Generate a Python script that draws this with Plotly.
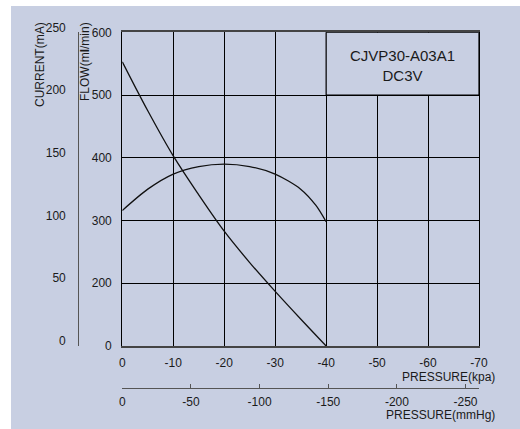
import plotly.graph_objects as go

# ---------------- data ----------------
pressure_kpa = [0, -5, -10, -15, -20, -25, -30, -35, -40]
flow_ml_min = [553, 475, 403, 341, 283, 233, 187, 143, 100]

pressure_kpa_cur = [0, -5, -10, -15, -20, -25, -30, -35, -38, -40]
current_ma = [108, 125, 137, 143, 145, 143, 137, 125, 112, 99]

kpa_tickvals = [0, -10, -20, -30, -40, -50, -60, -70]
kpa_ticktext = ["0", "-10", "-20", "-30", "-40", "-50", "-60", "-70"]

mmhg_tickvals = [0, -50, -100, -150, -200, -250]
mmhg_ticktext = ["0", "-50", "-100", "-150", "-200", "-250"]

flow_tickvals = [100, 200, 300, 400, 500, 600]
flow_ticktext = ["0", "200", "300", "400", "500", "600"]

current_tickvals = [0, 50, 100, 150, 200, 250]

model_text = "CJVP30-A03A1<br>DC3V"

# ---------------- layout helpers ----------------
W, H = 520, 429
BG = "#C8CFE2"
FONT = "Liberation Sans, Arial, sans-serif"
TXT = "#1a1a1a"


def px(xp):
    return xp / W


def py(yp):
    return (H - yp) / H


PL, PR, PT, PB = 122.3, 479, 32.3, 346

fig = go.Figure()

fig.add_trace(go.Scatter(
    x=pressure_kpa, y=flow_ml_min, mode="lines",
    line=dict(color="#111", width=1.3, shape="spline", smoothing=1.0),
    xaxis="x", yaxis="y", showlegend=False, hoverinfo="skip"))

fig.add_trace(go.Scatter(
    x=pressure_kpa_cur, y=current_ma, mode="lines",
    line=dict(color="#111", width=1.3, shape="spline", smoothing=0.8),
    xaxis="x", yaxis="y2", showlegend=False, hoverinfo="skip"))

# carrier for the mmHg scale (no visible marks)
fig.add_trace(go.Scatter(
    x=mmhg_tickvals, y=[None] * len(mmhg_tickvals), mode="lines",
    xaxis="x2", yaxis="y", showlegend=False, hoverinfo="skip"))

fig.update_layout(
    width=W, height=H, autosize=False,
    margin=dict(l=0, r=0, t=0, b=0, pad=0, autoexpand=False),
    paper_bgcolor="white",
    plot_bgcolor=BG,
    font=dict(family=FONT, size=12, color=TXT),
    xaxis=dict(
        domain=[px(PL), px(PR)], range=[0, -70], anchor="y",
        tickvals=kpa_tickvals, ticktext=kpa_ticktext,
        showgrid=True, gridcolor="#000", gridwidth=1.2,
        showline=True, linecolor="#444", linewidth=2, mirror=True,
        ticks="", ticklabelstandoff=5, zeroline=False, automargin=False,
        tickfont=dict(size=12, color=TXT),
    ),
    yaxis=dict(
        domain=[py(PB), py(PT)], range=[100, 600], anchor="x",
        tickvals=flow_tickvals, ticktext=flow_ticktext,
        showgrid=True, gridcolor="#000", gridwidth=1.2,
        showline=True, linecolor="#000", linewidth=1.2, mirror=True,
        ticks="", ticklabelstandoff=7, zeroline=False, automargin=False,
        tickfont=dict(size=12, color=TXT),
    ),
    yaxis2=dict(
        overlaying="y", anchor="free", position=px(78.3), side="left",
        range=[0, 250], tickvals=current_tickvals,
        showgrid=False, zeroline=False, automargin=False,
        showline=True, linecolor="#555", linewidth=1.3,
        ticks="", ticklabelstandoff=10, ticklabelshift=-5,
        tickfont=dict(size=12, color=TXT),
    ),
    xaxis2=dict(
        overlaying="x", range=[0, -259.8],
        anchor="free", position=py(387.7), side="bottom",
        tickvals=mmhg_tickvals, ticktext=mmhg_ticktext,
        showgrid=False, zeroline=False, automargin=False,
        showline=True, linecolor="#555", linewidth=1.3,
        ticks="inside", ticklen=4, tickcolor="#555", tickwidth=1.2,
        ticklabelstandoff=3,
        tickfont=dict(size=12, color=TXT),
    ),
)

shapes = [
    dict(type="rect", xref="paper", yref="paper",
         x0=px(11), x1=1, y0=0, y1=py(6),
         fillcolor=BG, line=dict(width=0), layer="below"),
    dict(type="rect", xref="x", yref="y", x0=-40, x1=-70, y0=500, y1=600,
         fillcolor=BG, line=dict(color="#000", width=1.2), layer="above"),
]
fig.update_layout(shapes=shapes)

annotations = [
    dict(text=model_text, x=-55, y=547, xref="x", yref="y",
         xanchor="center", yanchor="middle",
         showarrow=False, font=dict(size=15, color=TXT), align="center"),
    dict(text="PRESSURE(kpa)", x=px(497), y=py(377), xref="paper", yref="paper",
         xanchor="right", yanchor="middle", showarrow=False,
         font=dict(size=12, color=TXT)),
    dict(text="PRESSURE(mmHg)", x=px(497), y=py(415), xref="paper", yref="paper",
         xanchor="right", yanchor="middle", showarrow=False,
         font=dict(size=12, color=TXT)),
    dict(text="FLOW(m<b>l</b>/min)", x=px(85), y=py(62), xref="paper", yref="paper",
         xanchor="center", yanchor="middle",
         textangle=-90, showarrow=False, font=dict(size=12, color=TXT)),
    dict(text="CURRENT(mA)", x=px(40), y=py(65), xref="paper", yref="paper",
         xanchor="center", yanchor="middle",
         textangle=-90, showarrow=False, font=dict(size=12, color=TXT)),
]
fig.update_layout(annotations=annotations)

fig.write_html(
    "out.html",
    config={"responsive": False, "displayModeBar": False},
    post_script="document.body.style.margin='0';",
)
